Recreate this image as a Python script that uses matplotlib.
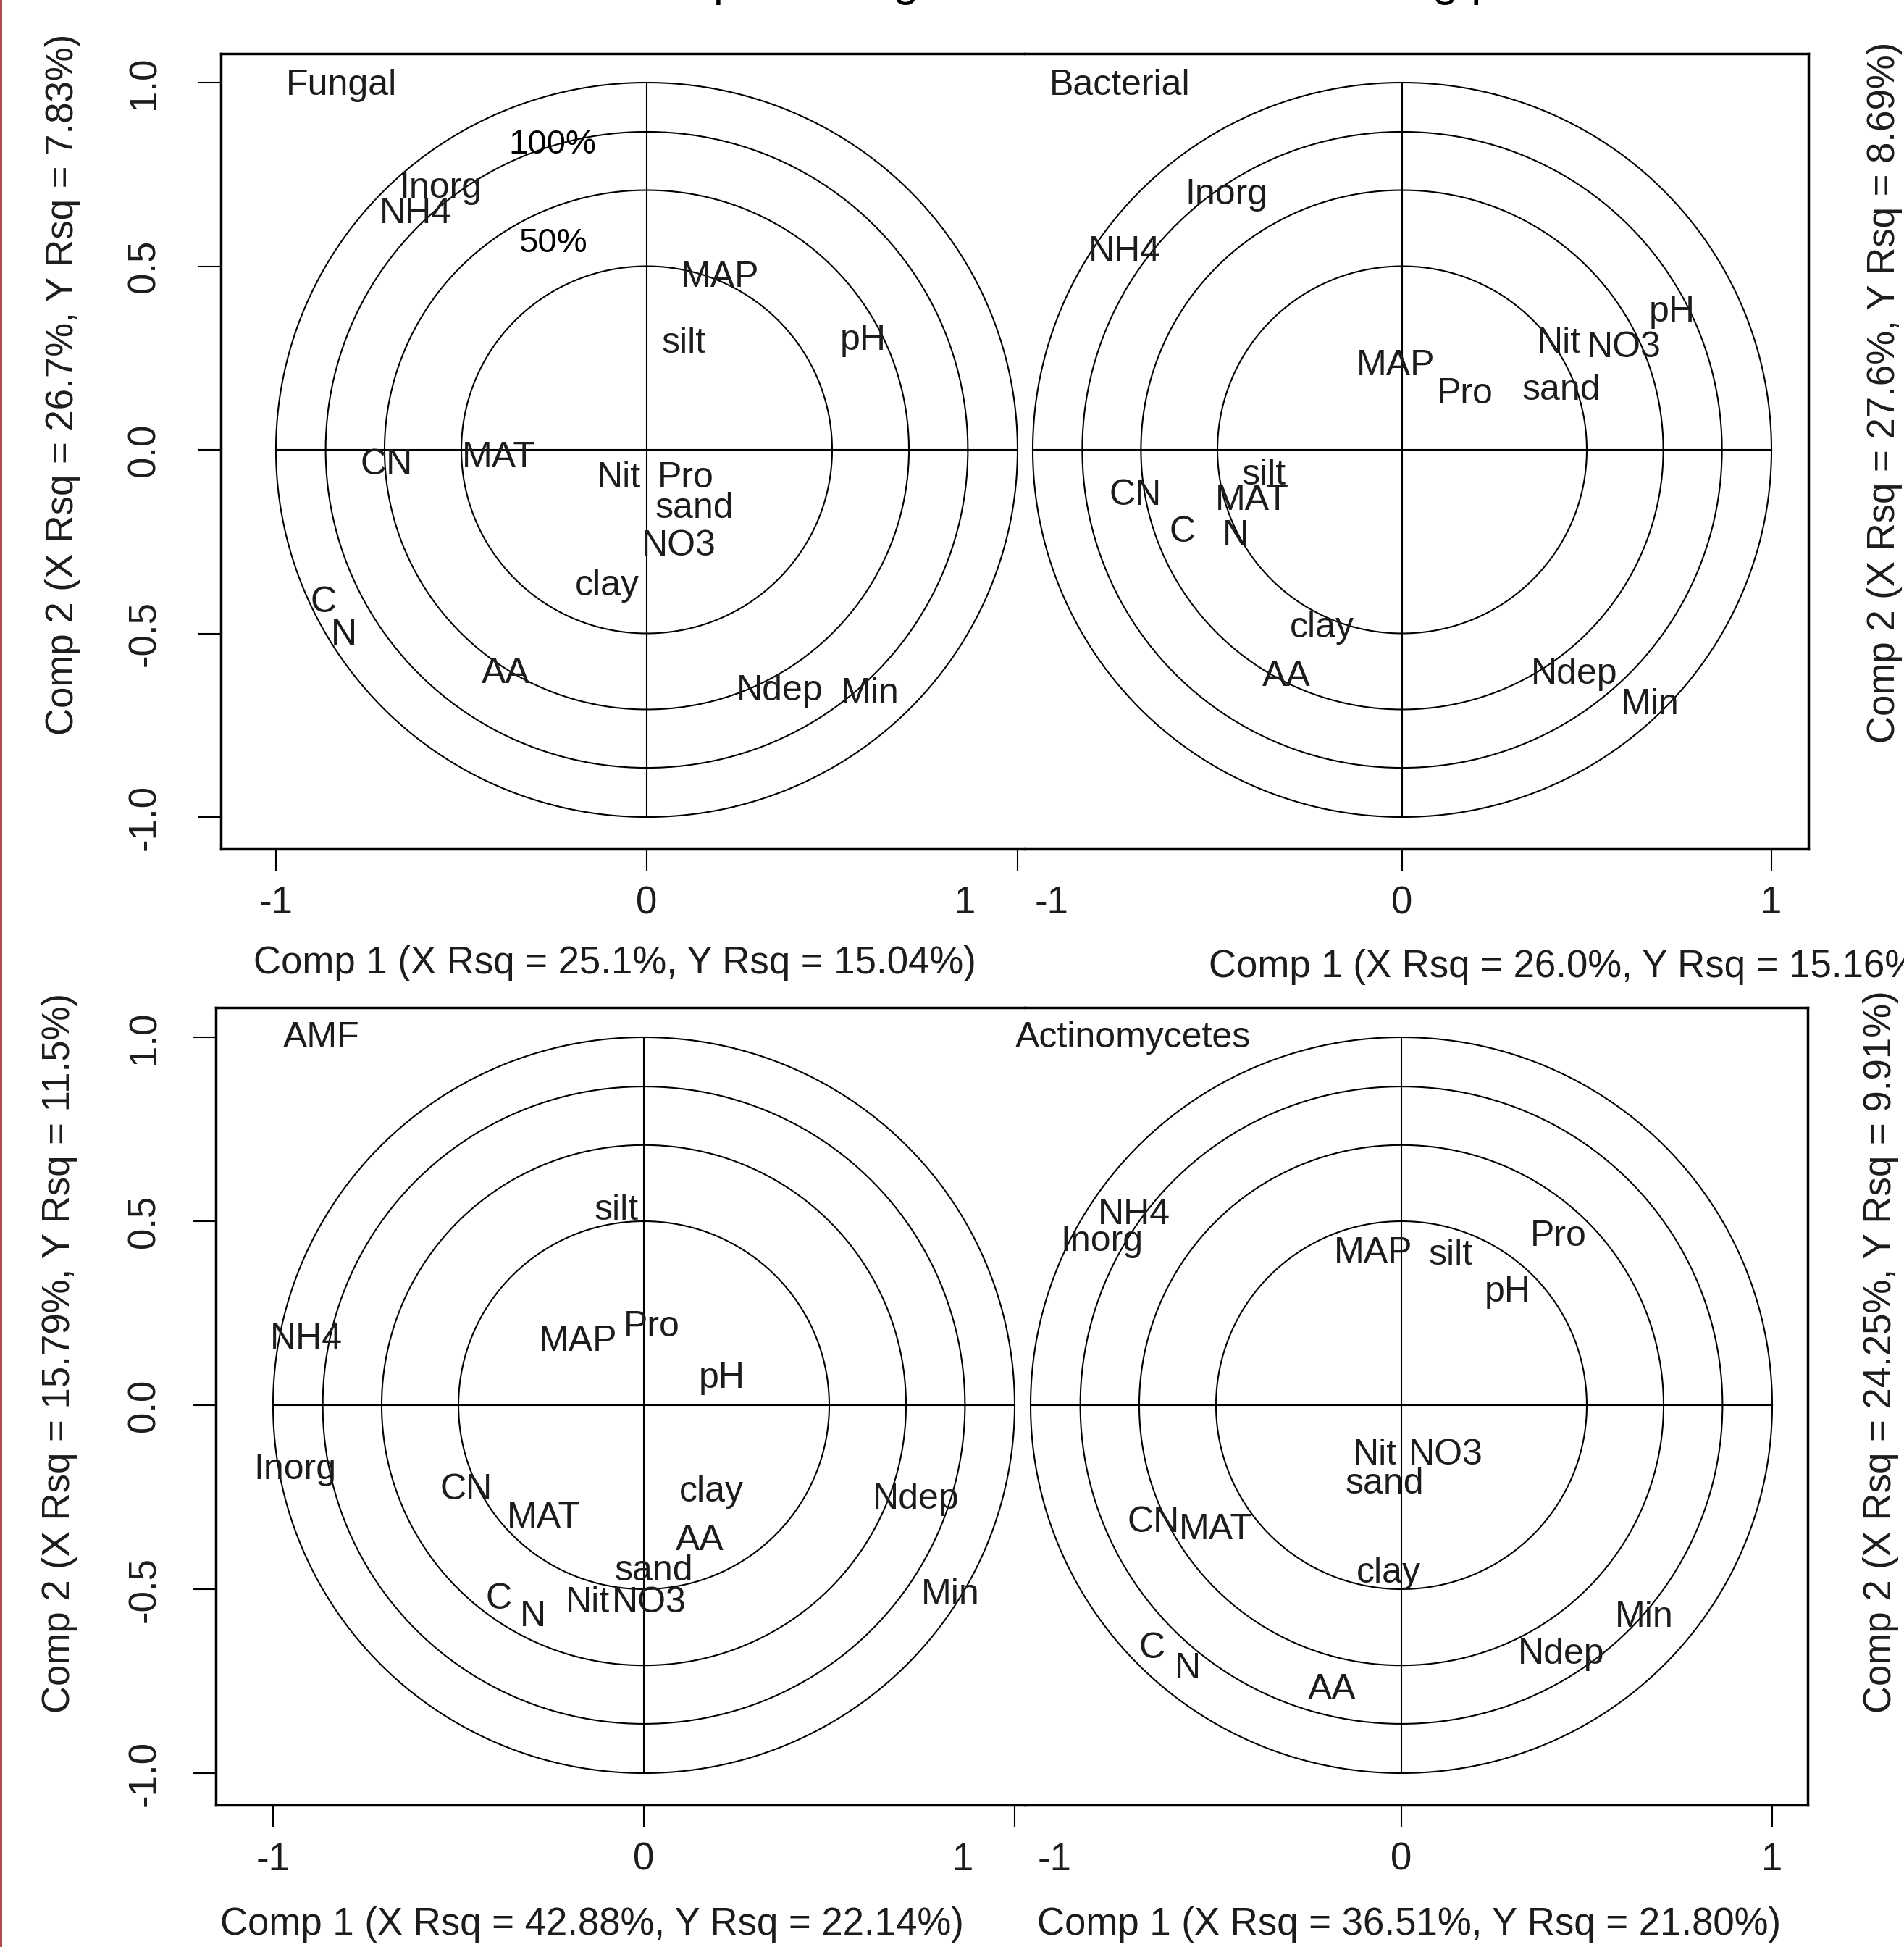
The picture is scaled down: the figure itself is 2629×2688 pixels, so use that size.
import numpy as np
import matplotlib
matplotlib.use("Agg")
import matplotlib.pyplot as plt
from matplotlib.lines import Line2D

plt.rcParams["font.family"] = ["Liberation Sans", "DejaVu Sans"]

W, H = 2629, 2688

# explained-variance circles (fraction) -> radius = sqrt
circle_levels = [1.0, 0.75, 0.5, 0.25]

# ---- Fungal ----
fungal_vars = ["Inorg", "NH4", "MAP", "silt", "pH", "CN", "MAT", "Nit", "Pro", "sand",
               "NO3", "clay", "C", "N", "AA", "Ndep", "Min"]
fungal_x = [-0.555, -0.623, 0.197, 0.100, 0.584, -0.701, -0.398, -0.076, 0.105, 0.129,
            0.086, -0.107, -0.871, -0.816, -0.381, 0.359, 0.602]
fungal_y = [0.712, 0.643, 0.469, 0.290, 0.298, -0.041, -0.022, -0.077, -0.077, -0.160,
            -0.263, -0.371, -0.416, -0.505, -0.609, -0.657, -0.665]

# ---- Bacterial ----
bact_vars = ["Inorg", "NH4", "MAP", "Pro", "sand", "Nit", "NO3", "pH", "silt", "CN",
             "MAT", "C", "N", "clay", "AA", "Ndep", "Min"]
bact_x = [-0.475, -0.751, -0.018, 0.171, 0.431, 0.424, 0.600, 0.731, -0.374, -0.722,
          -0.406, -0.594, -0.451, -0.216, -0.314, 0.467, 0.671]
bact_y = [0.694, 0.538, 0.229, 0.152, 0.162, 0.289, 0.279, 0.374, -0.069, -0.124,
          -0.138, -0.225, -0.235, -0.486, -0.617, -0.611, -0.694]

# ---- AMF ----
amf_vars = ["silt", "NH4", "MAP", "Pro", "pH", "Inorg", "CN", "MAT", "clay", "Ndep",
            "AA", "sand", "Nit", "NO3", "C", "N", "Min"]
amf_x = [-0.074, -0.910, -0.178, 0.021, 0.211, -0.941, -0.479, -0.270, 0.182, 0.734,
         0.150, 0.027, -0.152, 0.014, -0.391, -0.299, 0.826]
amf_y = [0.530, 0.179, 0.173, 0.213, 0.073, -0.175, -0.230, -0.307, -0.236, -0.256,
         -0.368, -0.451, -0.537, -0.537, -0.528, -0.575, -0.516]

# ---- Actinomycetes ----
actino_vars = ["NH4", "Inorg", "MAP", "silt", "Pro", "pH", "Nit", "NO3", "sand", "CN",
               "MAT", "clay", "Min", "Ndep", "C", "N", "AA"]
actino_x = [-0.721, -0.807, -0.076, 0.133, 0.423, 0.287, -0.072, 0.119, -0.045, -0.669,
            -0.501, -0.035, 0.655, 0.431, -0.673, -0.577, -0.187]
actino_y = [0.518, 0.445, 0.413, 0.407, 0.459, 0.307, -0.136, -0.136, -0.215, -0.319,
            -0.339, -0.457, -0.577, -0.677, -0.661, -0.717, -0.774]

panel_names = ["Fungal", "Bacterial", "AMF", "Actinomycetes"]
xlabels = ["Comp 1 (X Rsq = 25.1%, Y Rsq = 15.04%)",
           "Comp 1 (X Rsq = 26.0%, Y Rsq = 15.16%)",
           "Comp 1 (X Rsq = 42.88%, Y Rsq = 22.14%)",
           "Comp 1 (X Rsq = 36.51%, Y Rsq = 21.80%)"]
ylabels = ["Comp 2 (X Rsq = 26.7%, Y Rsq = 7.83%)",
           "Comp 2 (X Rsq = 27.6%, Y Rsq = 8.69%)",
           "Comp 2 (X Rsq = 15.79%, Y Rsq = 11.5%)",
           "Comp 2 (X Rsq = 24.25%, Y Rsq = 9.91%)"]
yticks = [-1.0, -0.5, 0.0, 0.5, 1.0]
title = "Partial least squares regression correlation loading plots"

TXT = "#1c1c1c"
FS_VAR = 36
FS_AX = 38

fig = plt.figure(figsize=(W / 100, H / 100), dpi=100)


def fx(px):
    return px / W


def fy(py):
    return 1 - py / H


def draw_panel(ax, names, xs, ys):
    t = np.linspace(0, 2 * np.pi, 400)
    for lev in circle_levels:
        r = np.sqrt(lev)
        ax.plot(r * np.cos(t), r * np.sin(t), color="black", lw=1.5)
    ax.plot([-1, 1], [0, 0], color="black", lw=1.5)
    ax.plot([0, 0], [-1, 1], color="black", lw=1.5)
    for n, x, y in zip(names, xs, ys):
        ax.text(x, y, n, ha="center", va="center", fontsize=FS_VAR, color=TXT)


# row geometry in pixels: box top/bottom/left/right, y of 0, px per unit y,
# left panel (x of 0, px per unit), right panel (x of 0, px per unit)
rows = [
    dict(bt=74, bb=1172, bl=305, br=2497, y0=621, ypx=507, lx0=893, lxpx=512, rx0=1936, rxpx=510,
         tick_lab_y=1247, xlab_y=1330),
    dict(bt=1391, bb=2492, bl=298, br=2496, y0=1940, ypx=508, lx0=889, lxpx=512, rx0=1935, rxpx=512,
         tick_lab_y=2568, xlab_y=2657),
]
bd = 1415  # seam between the two panels of a row

panel_data = [(fungal_vars, fungal_x, fungal_y), (bact_vars, bact_x, bact_y),
              (amf_vars, amf_x, amf_y), (actino_vars, actino_x, actino_y)]

name_pos = [(395, 118), (1449, 118), (391, 1433), (1402, 1433)]
left_one_lab = [1333, 1330]     # the odd "1" label of the left panels
right_m1_lab = [1452, 1456]     # the "-1" label of the right panels
xlab_left = [(849, 1330, "center"), (817, 2657, "center")]
xlab_right = [(1669, 1335, "left"), (1946, 2657, "center")]
ylab_left = [(87, 531), (82, 1868)]
ylab_right = [(2602, 542), (2597, 1866)]

for i, g in enumerate(rows):
    h = g["bb"] - g["bt"]
    ylim = ((g["y0"] - g["bb"]) / g["ypx"], (g["y0"] - g["bt"]) / g["ypx"])

    axl = fig.add_axes([fx(g["bl"]), fy(g["bb"]), (bd - g["bl"]) / W, h / H])
    axl.set_xlim((g["bl"] - g["lx0"]) / g["lxpx"], (bd - g["lx0"]) / g["lxpx"])
    axl.set_ylim(*ylim)
    axr = fig.add_axes([fx(bd), fy(g["bb"]), (g["br"] - bd) / W, h / H])
    axr.set_xlim((bd - g["rx0"]) / g["rxpx"], (g["br"] - g["rx0"]) / g["rxpx"])
    axr.set_ylim(*ylim)

    for ax, side in ((axl, "right"), (axr, "left")):
        for s in ax.spines.values():
            s.set_linewidth(2.5)
        ax.spines[side].set_visible(False)
        ax.tick_params(labelbottom=False, labelleft=False, direction="out",
                       length=22, width=1.5)

    axl.set_xticks([-1, 0, 1])
    axl.set_yticks(yticks)
    axr.set_xticks([0, 1])
    axr.set_yticks([])

    draw_panel(axl, *panel_data[2 * i])
    draw_panel(axr, *panel_data[2 * i + 1])

    # tick labels
    ly = fy(g["tick_lab_y"])
    for v in [-1, 0]:
        fig.text(fx(g["lx0"] + v * g["lxpx"]), ly, f"{v:d}", ha="center", va="center",
                 fontsize=FS_AX, color=TXT)
    fig.text(fx(left_one_lab[i]), ly, "1", ha="center", va="center", fontsize=FS_AX, color=TXT)
    fig.text(fx(right_m1_lab[i]), ly, "-1", ha="center", va="center", fontsize=FS_AX, color=TXT)
    for v in [0, 1]:
        fig.text(fx(g["rx0"] + v * g["rxpx"]), ly, f"{v:d}", ha="center", va="center",
                 fontsize=FS_AX, color=TXT)
    for v in yticks:
        fig.text(fx(200), fy(g["y0"] - v * g["ypx"]), f"{v:.1f}", rotation=90,
                 ha="center", va="center", fontsize=FS_AX, color=TXT)

    # panel names
    for j in range(2):
        px, py = name_pos[2 * i + j]
        fig.text(fx(px), fy(py), panel_names[2 * i + j], ha="left", va="center",
                 fontsize=FS_VAR, color=TXT)

    # axis labels
    x, y, ha = xlab_left[i]
    fig.text(fx(x), fy(y), xlabels[2 * i], ha=ha, va="center", fontsize=FS_AX, color=TXT)
    x, y, ha = xlab_right[i]
    fig.text(fx(x), fy(y), xlabels[2 * i + 1], ha=ha, va="center", fontsize=FS_AX, color=TXT)
    x, y = ylab_left[i]
    fig.text(fx(x), fy(y), ylabels[2 * i], rotation=90, ha="center", va="center",
             fontsize=FS_AX, color=TXT)
    x, y = ylab_right[i]
    fig.text(fx(x), fy(y), ylabels[2 * i + 1], rotation=90, ha="center", va="center",
             fontsize=FS_AX, color=TXT)

    if i == 0:
        axl.text(-0.254, 0.830, "100%", ha="center", va="center", fontsize=34, color="black")
        axl.text(-0.254, 0.562, "50%", ha="center", va="center", fontsize=34, color="black")

# title, almost entirely above the top edge (only descenders show)
fig.text(fx(580), fy(-6), title, ha="left", va="baseline", fontsize=46, color="black")

# thin red border on the left edge
fig.add_artist(Line2D([fx(1), fx(1)], [0, 1], color="#a83636", lw=2, transform=fig.transFigure))

fig.savefig("out.png", dpi=100)
